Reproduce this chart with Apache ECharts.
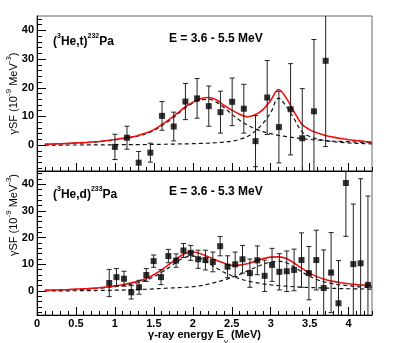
<!DOCTYPE html>
<html>
<head>
<meta charset="utf-8">
<script src="https://cdn.jsdelivr.net/npm/echarts@6/dist/echarts.min.js"></script>
<style>html,body{margin:0;padding:0;background:#fff}#c{width:415px;height:343px}</style>
</head>
<body>
<div id="c"></div>
<script>
// ---- data ----
// (3He,t)232Pa, E = 3.6 - 5.5 MeV
var topX   = [1.00,1.155,1.305,1.455,1.605,1.755,1.905,2.055,2.205,2.355,2.505,2.655,2.805,2.955,3.105,3.255,3.405,3.555,3.705];
var topY   = [-0.6,2.6,-6.1,-2.6,10.2,6.5,15.2,16.3,13.6,11.5,15.1,12.7,1.4,16.6,6.3,12.5,2.4,11.8,29.4];
var topErr = [4.4,4.0,3.9,3.3,5.0,5.0,6.3,6.9,7.0,7.3,8.3,8.5,8.9,12.9,12.5,15.9,17.3,25.0,29.9];

// (3He,d)233Pa, E = 3.6 - 5.3 MeV
var botX   = [0.927,1.02,1.117,1.21,1.31,1.403,1.497,1.592,1.686,1.785,1.88,1.973,2.068,2.162,2.257,2.351,2.446,2.544,2.638,2.733,2.828,2.922,3.017,3.111,3.206,3.3,3.395,3.49,3.585,3.68,3.775,3.87,3.965,4.06,4.154,4.248];
var botY   = [3.0,5.2,4.6,-0.5,1.4,6.0,11.2,5.2,13.1,11.4,15.2,14.3,11.9,11.6,10.9,16.8,9.1,10.0,11.9,6.7,11.5,5.7,9.8,7.2,7.4,7.9,11.6,6.7,11.6,1.1,6.9,-4.6,40.5,10.1,10.4,2.3];
var botErr = [5.1,3.2,2.8,2.5,2.6,2.4,2.3,2.8,2.5,2.5,2.6,2.8,3.4,3.7,3.7,3.6,4.1,4.6,5.2,5.3,5.4,5.9,6.2,6.8,7.6,7.8,10.2,10.0,11.2,14.3,15.0,16.0,20.0,22.5,31.7,33.3];

// fitted curves, read at these energies
var curveX = [0.1,0.2,0.3,0.4,0.5,0.6,0.7,0.8,0.9,1.0,1.1,1.2,1.3,1.4,1.5,1.6,1.7,1.8,1.9,2.0,2.1,2.2,2.3,2.4,2.5,2.6,2.7,2.8,2.9,3.0,3.1,3.2,3.3,3.4,3.5,3.6,3.7,3.8,3.9,4.0,4.1,4.2,4.3];
var topComp1 = [0.3,0.4,0.5,0.6,0.7,0.8,1.0,1.2,1.5,1.8,2.2,2.6,3.2,4.0,5.1,6.8,8.6,10.7,12.9,14.6,15.7,16.0,15.0,13.1,10.8,8.7,7.0,5.7,4.7,4.0,3.4,3.0,2.6,2.3,2.0,1.8,1.6,1.4,1.3,1.2,1.1,1.0,0.9];
var topComp2 = [0.02,0.03,0.04,0.05,0.06,0.07,0.08,0.1,0.12,0.14,0.16,0.18,0.2,0.23,0.26,0.3,0.35,0.4,0.45,0.52,0.6,0.7,0.85,1.05,1.4,2.0,3.0,4.9,7.6,11.3,16.4,13.5,9.2,4.7,3.0,2.1,1.6,1.2,0.95,0.8,0.65,0.55,0.45];
var topSum   = [0.3,0.4,0.5,0.6,0.8,0.9,1.1,1.3,1.6,2.0,2.4,2.8,3.4,4.2,5.4,7.1,9.0,11.1,13.3,15.0,16.2,16.6,15.8,13.9,12.2,10.8,9.9,10.6,12.4,15.6,19.4,16.4,11.6,7.3,5.4,4.2,3.4,2.8,2.3,1.9,1.6,1.3,1.1];
var botComp1 = [0.2,0.3,0.35,0.45,0.55,0.65,0.8,1.0,1.3,1.6,2.0,2.5,3.2,4.1,5.3,7.0,8.9,11.0,12.6,13.1,12.2,10.5,8.7,7.0,5.7,4.6,3.8,3.2,2.7,2.3,2.0,1.8,1.6,1.4,1.3,1.2,1.1,1.0,0.9,0.85,0.8,0.75,0.7];
var botComp2 = [0.05,0.06,0.07,0.08,0.1,0.12,0.15,0.19,0.24,0.3,0.36,0.45,0.55,0.65,0.8,0.95,1.1,1.25,1.4,1.6,2.0,2.6,3.3,4.1,5.1,6.2,7.5,8.8,10.0,10.9,11.2,10.6,9.0,7.2,5.5,4.2,3.3,2.7,2.3,2.0,1.7,1.5,1.3];
var botSum   = [0.25,0.35,0.45,0.55,0.7,0.8,1.0,1.2,1.55,1.9,2.35,2.95,3.7,4.7,6.1,7.9,10.1,12.3,14.1,14.6,14.0,12.8,11.5,10.5,9.6,9.7,10.2,11.2,12.1,12.7,12.8,12.2,10.5,8.5,6.7,5.3,4.3,3.6,3.1,2.7,2.4,2.2,2.0];

// axes / tick labels
var xMajor = [0,0.5,1,1.5,2,2.5,3,3.5,4];
var yMajor = [0,10,20,30,40];
var X_MIN = 0, X_MAX = 4.3, Y_MIN = -9, Y_MAX = 45;

// ---- chart ----
var FONT = '"Liberation Sans", Arial, Helvetica, sans-serif';
var xMinor = [], yMinor = [];
for (var i = 1; i <= 43; i++) { if (i % 5) xMinor.push(+(i / 10).toFixed(1)); }
for (var v = -8; v <= 44; v += 2) { if (v % 10) yMinor.push(v); }

function zip(a, b, c) { return a.map(function (v, i) { return c ? [v, b[i], c[i]] : [v, b[i]]; }); }

var grids = [
  { left: 37, right: 43, top: 16, height: 155, show: true, borderColor: '#666', borderWidth: 1, backgroundColor: 'transparent', containLabel: false, outerBoundsMode: 'none' },
  { left: 37, right: 43, top: 171, height: 144, show: true, borderColor: '#666', borderWidth: 1, backgroundColor: 'transparent', containLabel: false, outerBoundsMode: 'none' }
];
var gridH = [155, 144];

var xAxes = [], yAxes = [];
var yName = '{b|γSF (10}{s|-9}{b| MeV}{s|-3}{b|)}';
var nameRich = { b: { fontSize: 11, fontFamily: FONT, color: '#000', verticalAlign: 'bottom', lineHeight: 14 },
                 s: { fontSize: 8, fontFamily: FONT, color: '#000', verticalAlign: 'top', lineHeight: 14 } };
[0, 1].forEach(function (g) {
  xAxes.push({
    type: 'value', gridIndex: g, min: X_MIN, max: X_MAX, position: 'bottom',
    axisLine: { onZero: false, lineStyle: { color: '#000', width: 1 } },
    axisTick: { inside: true, length: 8, customValues: xMajor, lineStyle: { color: '#000' } },
    axisLabel: g === 1 ? { customValues: xMajor, fontSize: 11, fontWeight: 'bold', fontFamily: FONT, color: '#000', margin: 3 } : { show: false },
    splitLine: { show: false },
    name: g === 1 ? '{b|γ-ray energy E}{u|γ}{b| (MeV)}' : '',
    nameLocation: 'middle', nameGap: 12,
    nameTextStyle: { rich: { b: { fontSize: 11, fontWeight: 'bold', fontFamily: FONT, color: '#000', verticalAlign: 'top', lineHeight: 16 },
                             u: { fontSize: 8, fontFamily: FONT, color: '#000', verticalAlign: 'bottom', lineHeight: 16 } } }
  });
  xAxes.push({
    type: 'value', gridIndex: g, min: X_MIN, max: X_MAX, position: 'top', offset: -gridH[g],
    axisLine: { show: false, onZero: false },
    axisTick: { inside: false, length: 4, customValues: xMinor, lineStyle: { color: '#000' } },
    axisLabel: { show: false }, splitLine: { show: false }
  });
  yAxes.push({
    type: 'value', gridIndex: g, min: Y_MIN, max: Y_MAX, position: 'left',
    axisLine: { onZero: false, lineStyle: { color: '#000', width: 1 } },
    axisTick: { inside: true, length: 9, customValues: yMajor, lineStyle: { color: '#000' } },
    axisLabel: { customValues: yMajor, fontSize: 11, fontWeight: 'bold', fontFamily: FONT, color: '#000', margin: 3 },
    splitLine: { show: false },
    name: yName, nameLocation: 'middle', nameGap: 18, nameRotate: 90, nameMoveOverlap: false,
    nameTextStyle: { rich: nameRich, padding: g === 1 ? [0, 0, 0, 56] : 0 }
  });
  yAxes.push({
    type: 'value', gridIndex: g, min: Y_MIN, max: Y_MAX, position: 'right', offset: -335,
    axisLine: { show: false, onZero: false },
    axisTick: { inside: false, length: 5, customValues: yMinor, lineStyle: { color: '#000' } },
    axisLabel: { show: false }, splitLine: { show: false }
  });
});

function errRender(params, api) {
  var x = api.value(0), y = api.value(1), e = api.value(2);
  var lo = y - e, hi = y + e;
  var loC = Math.max(lo, Y_MIN), hiC = Math.min(hi, Y_MAX);
  var p1 = api.coord([x, loC]), p2 = api.coord([x, hiC]);
  var st = { stroke: '#222', lineWidth: 1 };
  var ch = [{ type: 'line', shape: { x1: p1[0], y1: p1[1], x2: p2[0], y2: p2[1] }, style: st }];
  if (lo >= Y_MIN) ch.push({ type: 'line', shape: { x1: p1[0] - 2.5, y1: p1[1], x2: p1[0] + 2.5, y2: p1[1] }, style: st });
  if (hi <= Y_MAX) ch.push({ type: 'line', shape: { x1: p2[0] - 2.5, y1: p2[1], x2: p2[0] + 2.5, y2: p2[1] }, style: st });
  return { type: 'group', children: ch };
}

var series = [];
function addPanel(g, comp1, comp2, sum, px, py, pe) {
  var xa = g * 2, ya = g * 2;
  [comp1, comp2].forEach(function (c) {
    series.push({ type: 'line', xAxisIndex: xa, yAxisIndex: ya, data: zip(curveX, c), symbol: 'none', smooth: 0.35,
      lineStyle: { color: '#111', width: 1.2, type: [4, 3] }, z: 2, silent: true });
  });
  series.push({ type: 'line', xAxisIndex: xa, yAxisIndex: ya, data: zip(curveX, sum), symbol: 'none', smooth: 0.35,
    lineStyle: { color: '#f01010', width: 1.6 }, z: 3, silent: true });
  series.push({ type: 'custom', xAxisIndex: xa, yAxisIndex: ya, data: zip(px, py, pe), renderItem: errRender, z: 4, silent: true });
  series.push({ type: 'scatter', xAxisIndex: xa, yAxisIndex: ya, data: zip(px, py), symbol: 'rect', symbolSize: 6,
    itemStyle: { color: '#000' }, z: 5, silent: true });
}
addPanel(0, topComp1, topComp2, topSum, topX, topY, topErr);
addPanel(1, botComp1, botComp2, botSum, botX, botY, botErr);

var annRich = { b: { fontSize: 12, fontWeight: 'bold', fontFamily: FONT, fill: '#000', verticalAlign: 'bottom', lineHeight: 15 },
                s: { fontSize: 7, fontWeight: 'bold', fontFamily: FONT, fill: '#000', verticalAlign: 'top', lineHeight: 15 } };
function ann(text, left, top) {
  return { type: 'text', left: left, top: top, z: 10, style: { text: text, rich: annRich, fill: '#000' } };
}

var chart = echarts.init(document.getElementById('c'), null, { renderer: 'canvas' });
chart.setOption({
  animation: false,
  backgroundColor: '#fff',
  grid: grids,
  xAxis: xAxes,
  yAxis: yAxes,
  series: series,
  graphic: [
    ann('{b|(}{s|3}{b|He,t)}{s|232}{b|Pa}', 53, 33),
    ann('{b|E = 3.6 - 5.5 MeV}', 169, 33),
    ann('{b|(}{s|3}{b|He,d)}{s|233}{b|Pa}', 53, 186),
    ann('{b|E = 3.6 - 5.3 MeV}', 169, 186)
  ]
});
</script>
</body>
</html>
